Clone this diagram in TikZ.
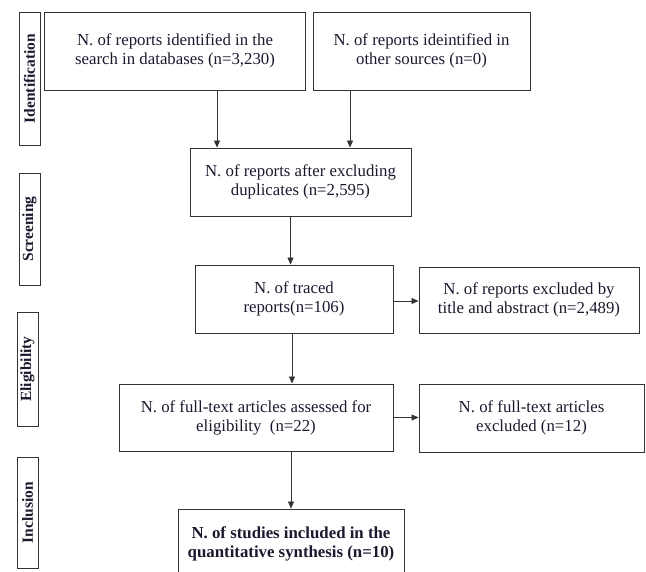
\documentclass[tikz,border=0pt]{standalone}
\usepackage{fontspec}
\setmainfont{Liberation Serif}
\usepackage{tikz}
\usetikzlibrary{arrows.meta,positioning,calc}
\definecolor{Ink}{HTML}{1A1A2E}
\definecolor{Edge}{HTML}{333333}

\begin{document}
\begin{tikzpicture}[x=1pt,y=-1pt,
  box/.style={draw=Edge,line width=0.9pt,align=center,inner sep=2pt,text=Ink,font=\fontsize{16.8}{19}\selectfont},
  phase/.style={draw=Edge,line width=0.9pt,rotate=90,inner sep=0pt,text=Ink,font=\fontsize{15.5}{16}\selectfont\bfseries},
  arr/.style={draw=Edge,line width=0.8pt,-{Triangle[length=7pt,width=6pt]}}]
  \useasboundingbox (0,0) rectangle (646,571);
  % phases
  \node[phase,minimum width=133pt,minimum height=21pt] (pid) at (29.5,78.5) {Identification};
  \node[phase,minimum width=112pt,minimum height=21pt] (psc) at (29.5,229) {Screening};
  \node[phase,minimum width=114pt,minimum height=21pt] (pel) at (27.5,369) {Eligibility};
  \node[phase,minimum width=111pt,minimum height=21pt] (pin) at (27.5,512.5) {Inclusion};
  % boxes
  \node[box,minimum width=261pt,minimum height=78pt] (db) at (175,51) {N. of reports identified in the\\search in databases (n=3,230)};
  \node[box,minimum width=217pt,minimum height=78pt] (other) at (421.5,51) {N. of reports ideintified in\\other sources (n=0)};
  \node[box,minimum width=221pt,minimum height=68pt] (dup) at (300.5,182) {N. of reports after excluding\\duplicates (n=2,595)};
  \node[box,minimum width=198pt,minimum height=68pt] (traced) at (294,299) {N. of traced\\reports(n=106)};
  \node[box,minimum width=220pt,minimum height=66pt] (exta) at (529,300) {N. of reports excluded by\\title and abstract (n=2,489)};
  \node[box,minimum width=274pt,minimum height=67pt] (full) at (256,417.5) {N. of full-text articles assessed for\\eligibility\ \ (n=22)};
  \node[box,minimum width=225pt,minimum height=68pt] (exft) at (531.5,418) {N. of full-text articles\\excluded (n=12)};
  \node[box,minimum width=226pt,minimum height=70pt,font=\fontsize{16.8}{19}\selectfont\bfseries] (incl) at (291,544) {N. of studies included in the\\quantitative synthesis (n=10)};
  % arrows
  \draw[arr] ([xshift=42pt]db.south) -- ([xshift=42pt]db.south |- dup.north);
  \draw[arr] ([xshift=-71.5pt]other.south) -- ([xshift=-71.5pt]other.south |- dup.north);
  \draw[arr] ([xshift=-10pt]dup.south) -- ([xshift=-10pt]dup.south |- traced.north);
  \draw[arr] ([yshift=-2pt]traced.east) -- ([yshift=-2pt]traced.east -| exta.west);
  \draw[arr] ([xshift=-2pt]traced.south) -- ([xshift=-2pt]traced.south |- full.north);
  \draw[arr] (full.east) -- (full.east -| exft.west);
  \draw[arr] (full.south -| incl.north) -- (incl.north);
\end{tikzpicture}
\end{document}
